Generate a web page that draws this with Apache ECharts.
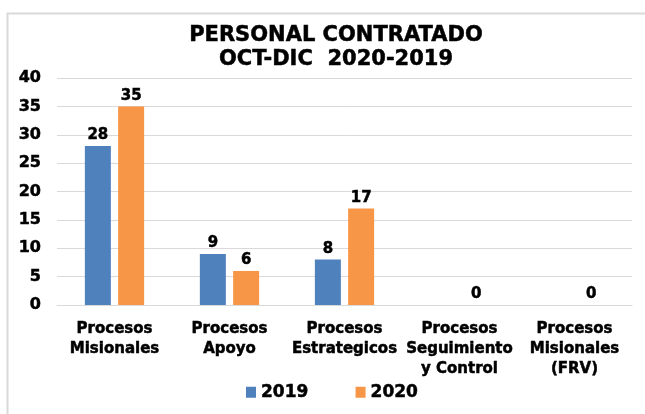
<!DOCTYPE html>
<html>
<head>
<meta charset="utf-8">
<script src="https://cdn.jsdelivr.net/npm/echarts@6/dist/echarts.min.js"></script>
<style>
    html, body { margin: 0; padding: 0; background: #fff; }
    #chart { width: 645px; height: 414px; }
</style>
</head>
<body>
<div id="chart"></div>
<script>
var categories = ['Procesos\nMisionales', 'Procesos\nApoyo', 'Procesos\nEstrategicos', 'Procesos\nSeguimiento\ny Control', 'Procesos\nMisionales\n(FRV)'];
var values2019 = [28, 9, 8, null, null];
var values2020 = [35, 6, 17, 0, 0];
var seriesNames = ['2019', '2020'];

var font = 'DejaVu Sans';

// texto un poco mas grueso, como en la imagen original
var heavy = {
    fontFamily: font,
    fontWeight: 'bold',
    color: '#000',
    textBorderColor: '#000',
    textBorderWidth: 0.5
};

var barLabel = echarts.util.extend({
    show: true,
    position: 'top',
    distance: 3,
    fontSize: 15
}, heavy);

var chart = echarts.init(document.getElementById('chart'));
var option = {
    backgroundColor: '#fff',
    animation: false,
    color: ['#4f81bd', '#f79646'],
    title: {
        text: 'PERSONAL CONTRATADO\nOCT-DIC  2020-2019',
        left: 331,
        top: 19,
        textAlign: 'center',
        textStyle: echarts.util.extend({ fontSize: 21, lineHeight: 24 }, heavy)
    },
    legend: {
        bottom: 8,
        left: 241,
        itemWidth: 10,
        itemHeight: 11,
        itemGap: 47,
        icon: 'rect',
        textStyle: echarts.util.extend({ fontSize: 17 }, heavy),
        data: seriesNames
    },
    grid: {
        left: 57,
        right: 13,
        top: 78,
        bottom: 109
    },
    xAxis: {
        type: 'category',
        data: categories,
        axisTick: { show: false },
        axisLine: { lineStyle: { color: '#d9d9d9', width: 1 } },
        axisLabel: echarts.util.extend({
            interval: 0,
            margin: 14,
            fontSize: 15,
            lineHeight: 20
        }, heavy)
    },
    yAxis: {
        type: 'value',
        min: 0,
        max: 40,
        interval: 5,
        axisLine: { show: false },
        axisTick: { show: false },
        splitLine: { lineStyle: { color: '#d9d9d9', width: 1 } },
        axisLabel: echarts.util.extend({
            margin: 16,
            fontSize: 16
        }, heavy)
    },
    graphic: [{
        type: 'polyline',
        shape: { points: [[7.5, 414], [7.5, 13.5], [645, 13.5]] },
        style: { stroke: '#d9d9d9', lineWidth: 2, fill: null },
        silent: true
    }],
    series: [{
        name: seriesNames[0],
        type: 'bar',
        barWidth: 26,
        barGap: '28%',
        data: values2019,
        label: barLabel
    }, {
        name: seriesNames[1],
        type: 'bar',
        barWidth: 26,
        barGap: '28%',
        data: values2020,
        label: barLabel
    }]
};
chart.setOption(option);
</script>
</body>
</html>
